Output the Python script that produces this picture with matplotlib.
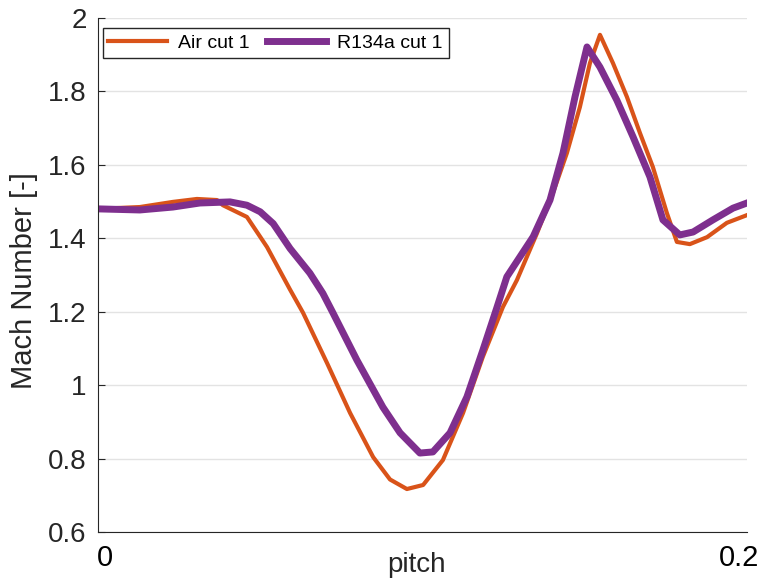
import matplotlib
matplotlib.use("Agg")
import matplotlib.pyplot as plt
import matplotlib.transforms as mtransforms

# Air cut 1
air_pitch = [0.0, 0.0129, 0.0231, 0.0305, 0.0367, 0.0385, 0.0459, 0.0521, 0.0592,
             0.0632, 0.0706, 0.0777, 0.0848, 0.0900, 0.0952, 0.1002, 0.1063, 0.1125,
             0.1186, 0.1248, 0.1291, 0.1353, 0.1402, 0.1445, 0.1485, 0.1516, 0.1547,
             0.1587, 0.1630, 0.1670, 0.1710, 0.1753, 0.1784, 0.1824, 0.1877, 0.1938, 0.2]
air_mach = [1.480, 1.485, 1.499, 1.507, 1.504, 1.490, 1.458, 1.376, 1.260,
            1.197, 1.060, 0.924, 0.804, 0.743, 0.717, 0.728, 0.796, 0.924,
            1.077, 1.213, 1.286, 1.414, 1.523, 1.632, 1.757, 1.877, 1.954,
            1.877, 1.785, 1.687, 1.594, 1.469, 1.390, 1.384, 1.403, 1.442, 1.463]

# R134a cut 1
r134a_pitch = [0.0, 0.0129, 0.0231, 0.0314, 0.0407, 0.0459, 0.0500, 0.0540, 0.0592,
               0.0653, 0.0693, 0.0724, 0.0798, 0.0878, 0.0931, 0.0992, 0.1032, 0.1085,
               0.1137, 0.1186, 0.1230, 0.1260, 0.1341, 0.1393, 0.1433, 0.1470, 0.1507,
               0.1547, 0.1599, 0.1649, 0.1701, 0.1741, 0.1793, 0.1834, 0.1895, 0.1957, 0.2]
r134a_mach = [1.480, 1.477, 1.485, 1.496, 1.499, 1.490, 1.472, 1.440, 1.372,
              1.305, 1.250, 1.197, 1.068, 0.940, 0.870, 0.815, 0.818, 0.870,
              0.968, 1.095, 1.213, 1.295, 1.404, 1.504, 1.632, 1.785, 1.921,
              1.866, 1.776, 1.676, 1.567, 1.450, 1.409, 1.417, 1.450, 1.482, 1.496]

y_ticks = [0.6, 0.8, 1.0, 1.2, 1.4, 1.6, 1.8, 2.0]
y_labels = ["0.6", "0.8", "1", "1.2", "1.4", "1.6", "1.8", "2"]

plt.rcParams["font.family"] = ["Liberation Sans", "DejaVu Sans"]

fig = plt.figure(figsize=(7.63, 5.79), dpi=100)
ax = fig.add_axes([0.1284, 0.0812, 0.8506, 0.8878])

ax.plot(air_pitch, air_mach, color="#D95319", linewidth=3.0, label="Air cut 1")
ax.plot(r134a_pitch, r134a_mach, color="#7E2F8E", linewidth=5.0, label="R134a cut 1")

ax.set_xlim(0, 0.2)
ax.set_ylim(0.6, 2.0)

ax.set_yticks(y_ticks)
ax.set_yticklabels(y_labels)
ax.tick_params(axis="y", direction="in", length=5, width=0.8, colors="#262626",
               labelsize=20, pad=8)

ax.set_xticks([0, 0.2])
ax.set_xticklabels(["0", "0.2"])
ax.tick_params(axis="x", length=0, labelsize=21, labelcolor="black", pad=9)
xl = ax.get_xticklabels()
xl[0].set_transform(xl[0].get_transform() + mtransforms.ScaledTranslation(7 / 100, 0, fig.dpi_scale_trans))
xl[1].set_transform(xl[1].get_transform() + mtransforms.ScaledTranslation(-8 / 100, 0, fig.dpi_scale_trans))

ax.grid(True, axis="y", color="#e3e3e3", linewidth=1.0)
ax.set_axisbelow(True)

for s in ["top", "right"]:
    ax.spines[s].set_visible(False)
ax.spines["left"].set_color("#262626")
ax.spines["bottom"].set_color("#262626")

ax.set_ylabel("Mach Number [-]", fontsize=21, color="#262626")
ax.yaxis.set_label_coords(-0.092, 0.49)
ax.set_xlabel("pitch", fontsize=20, color="#262626")
ax.xaxis.set_label_coords(0.49, -0.038)

leg = ax.legend(loc="upper left", ncol=2, fontsize=14, frameon=True, fancybox=False,
                handlelength=3.0, columnspacing=0.9, borderpad=0.3, handletextpad=0.6,
                bbox_to_anchor=(-0.005, 0.995), borderaxespad=0.4)
leg.get_frame().set_edgecolor("#262626")
leg.get_frame().set_linewidth(1.0)
leg.get_frame().set_alpha(1.0)

fig.savefig("out.png", dpi=100)
